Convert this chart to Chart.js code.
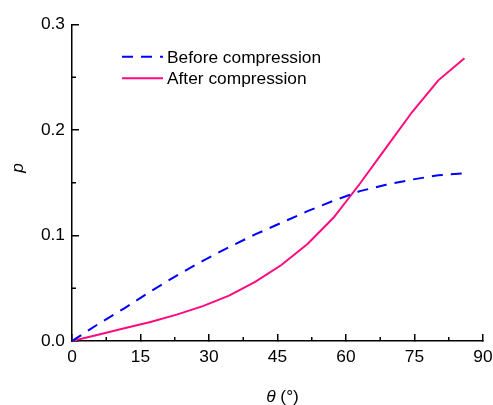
<!DOCTYPE html>
<html>
<head>
<meta charset="utf-8">
<script src="https://cdn.jsdelivr.net/npm/chart.js@4.4.1/dist/chart.umd.min.js"></script>
<style>
  html, body { margin: 0; padding: 0; background: #fff; }
  #wrap { width: 493px; height: 405px; }
</style>
</head>
<body>
<div id="wrap"><canvas id="pChart" width="493" height="405"></canvas></div>
<script>
// angle in degrees (0.1 rad steps)
const angles = [0, 5.73, 11.46, 17.19, 22.92, 28.65, 34.38, 40.11, 45.84, 51.57, 57.30, 63.03, 68.75, 74.48, 80.21, 85.94];
const beforeComp = [0, 0.016, 0.031, 0.047, 0.062, 0.076, 0.089, 0.101, 0.112, 0.123, 0.133, 0.142, 0.148, 0.153, 0.157, 0.159];
const afterComp = [0, 0.006, 0.012, 0.018, 0.025, 0.033, 0.043, 0.056, 0.072, 0.092, 0.117, 0.149, 0.183, 0.217, 0.247, 0.268];
const seriesNames = ['Before compression', 'After compression'];
const xTicks = [0, 15, 30, 45, 60, 75, 90];
const yTicks = [0, 0.1, 0.2, 0.3];

const FONT = 'Liberation Sans, Arial, sans-serif';
const FS = 17.33;
const BLUE = '#0000ff';
const PINK = '#ff0a7f';
const DASH = [11, 8];

// minor ticks, in-plot legend and axis titles
const extras = {
  id: 'extras',
  afterDraw(chart) {
    const ctx = chart.ctx;
    const xs = chart.scales.x, ys = chart.scales.y;
    const area = chart.chartArea;
    ctx.save();
    ctx.strokeStyle = '#000';
    ctx.lineWidth = 1.5;
    ctx.beginPath();
    for (let v = 7.5; v < 90; v += 15) {
      const px = xs.getPixelForValue(v);
      ctx.moveTo(px, area.bottom);
      ctx.lineTo(px, area.bottom - 4);
    }
    for (let v = 0.05; v < 0.3; v += 0.1) {
      const py = ys.getPixelForValue(v);
      ctx.moveTo(area.left, py);
      ctx.lineTo(area.left + 4, py);
    }
    ctx.stroke();

    // legend
    const items = [
      { color: BLUE, dash: DASH, y: 62.7 },
      { color: PINK, dash: [], y: 84.3 }
    ];
    ctx.font = FS + 'px ' + FONT;
    ctx.textBaseline = 'alphabetic';
    ctx.textAlign = 'left';
    items.forEach((it, i) => {
      ctx.strokeStyle = it.color;
      ctx.lineWidth = 2;
      ctx.setLineDash(it.dash);
      ctx.beginPath();
      ctx.moveTo(122, it.y - 6);
      ctx.lineTo(163, it.y - 6);
      ctx.stroke();
      ctx.setLineDash([]);
      ctx.fillStyle = '#000';
      ctx.fillText(seriesNames[i], 167, it.y);
    });

    // x title: italic theta + (°)
    ctx.fillStyle = '#000';
    ctx.textBaseline = 'middle';
    const t1 = 'θ', t2 = ' (°)';
    ctx.font = 'italic ' + FS + 'px ' + FONT;
    const w1 = ctx.measureText(t1).width;
    ctx.font = FS + 'px ' + FONT;
    const w2 = ctx.measureText(t2).width;
    const cx = (area.left + area.right) / 2 + 5;
    let sx = cx - (w1 + w2) / 2;
    ctx.font = 'italic ' + FS + 'px ' + FONT;
    ctx.fillText(t1, sx, 397);
    ctx.font = FS + 'px ' + FONT;
    ctx.fillText(t2, sx + w1, 397);

    // y title
    ctx.translate(18, 168);
    ctx.rotate(-Math.PI / 2);
    ctx.textAlign = 'center';
    ctx.font = 'italic ' + FS + 'px ' + FONT;
    ctx.fillText('p', 0, 0);
    ctx.restore();
  }
};

new Chart(document.getElementById('pChart').getContext('2d'), {
  type: 'line',
  data: {
    datasets: [
      {
        label: seriesNames[0],
        data: angles.map((a, i) => ({ x: a, y: beforeComp[i] })),
        borderColor: BLUE,
        borderWidth: 2,
        borderDash: DASH,
        pointRadius: 0,
        tension: 0,
        fill: false
      },
      {
        label: seriesNames[1],
        data: angles.map((a, i) => ({ x: a, y: afterComp[i] })),
        borderColor: PINK,
        borderWidth: 2,
        pointRadius: 0,
        tension: 0,
        fill: false
      }
    ]
  },
  options: {
    responsive: false,
    animation: false,
    layout: { padding: { top: 19, right: 0, left: 0, bottom: 0 } },
    plugins: { legend: { display: false }, tooltip: { enabled: false } },
    scales: {
      x: {
        type: 'linear',
        min: 0, max: 90,
        afterBuildTicks: s => { s.ticks = xTicks.map(v => ({ value: v })); },
        afterFit: s => { s.height = 64; s.paddingRight = 10; s.paddingLeft = 0; },
        grid: { drawOnChartArea: false, drawTicks: true, tickLength: -7, color: '#000', lineWidth: 1.5 },
        border: { display: true, color: '#000', width: 1.5 },
        ticks: { color: '#000', font: { family: FONT, size: FS }, padding: 13, maxRotation: 0 }
      },
      y: {
        min: 0, max: 0.3,
        afterBuildTicks: s => { s.ticks = yTicks.map(v => ({ value: v })); },
        afterFit: s => { s.width = 72; },
        grid: { drawOnChartArea: false, drawTicks: true, tickLength: -7, color: '#000', lineWidth: 1.5 },
        border: { display: true, color: '#000', width: 1.5 },
        ticks: { color: '#000', font: { family: FONT, size: FS }, padding: 14, callback: v => v.toFixed(1) }
      }
    }
  },
  plugins: [extras]
});
</script>
</body>
</html>
